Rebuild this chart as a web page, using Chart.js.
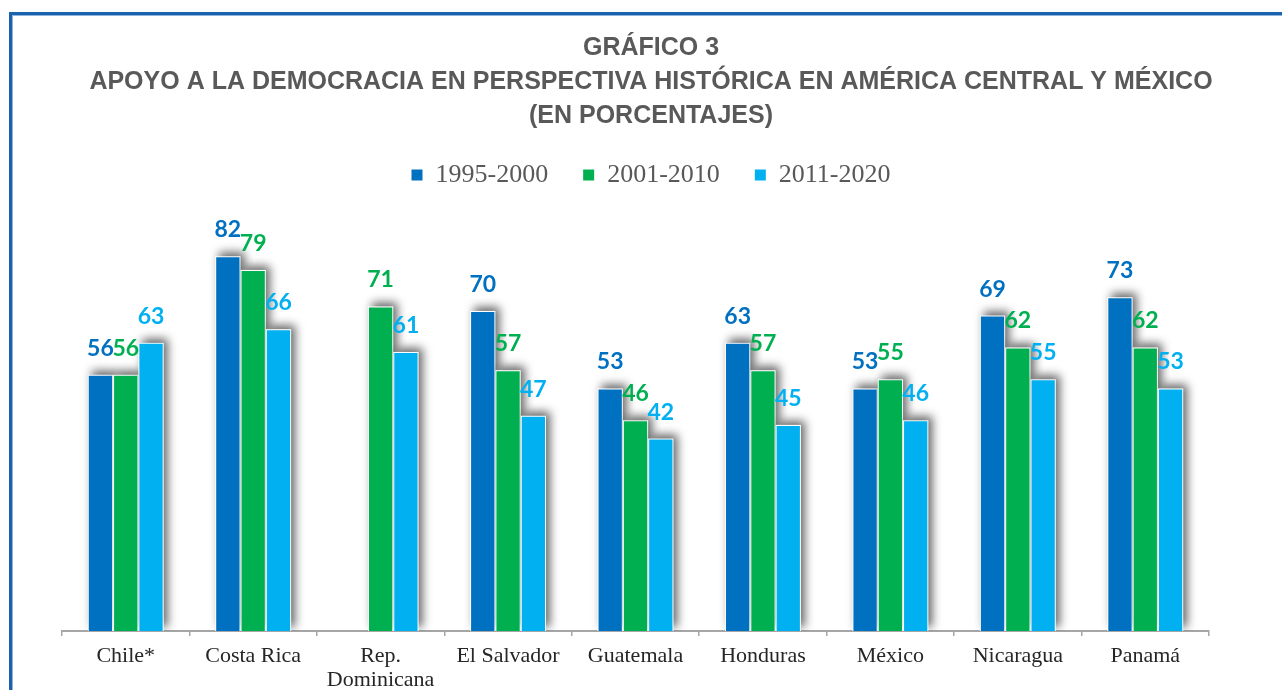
<!DOCTYPE html>
<html lang="es">
<head>
<meta charset="utf-8">
<script src="https://cdn.jsdelivr.net/npm/chart.js@4.4.1/dist/chart.umd.min.js"></script>
<style>
  html, body { margin: 0; padding: 0; background: #fff; overflow: hidden; }
  #wrap { position: relative; width: 1282px; height: 690px; }
  #frame {
    position: absolute; left: 9px; top: 12px; width: 1300px; height: 700px;
    border: 3px solid #1a62ad; box-shadow: inset 1px 1px 0 #8fb4dd; pointer-events: none;
  }
  canvas { position: absolute; left: 0; top: 0; }
</style>
</head>
<body>
<div id="wrap">
  <div id="frame"></div>
  <canvas id="chart" width="1282" height="690"></canvas>
</div>
<script>
// Data
const categories = ['Chile*', 'Costa Rica', ['Rep.', 'Dominicana'], 'El Salvador', 'Guatemala', 'Honduras', 'México', 'Nicaragua', 'Panamá'];
const periods = ['1995-2000', '2001-2010', '2011-2020'];
const values1995 = [56, 82, null, 70, 53, 63, 53, 69, 73];
const values2001 = [56, 79, 71, 57, 46, 57, 55, 62, 62];
const values2011 = [63, 66, 61, 47, 42, 45, 46, 55, 53];
const colors = ['#0070c0', '#00b050', '#00b0f0'];
const titleLines = [
  'GRÁFICO 3',
  'APOYO A LA DEMOCRACIA EN PERSPECTIVA HISTÓRICA EN AMÉRICA CENTRAL Y MÉXICO',
  '(EN PORCENTAJES)',
];

// White outline + soft drop shadow behind each bar
const barShadow = {
  id: 'barShadow',
  beforeDatasetsDraw(chart) {
    const { ctx, chartArea } = chart;
    ctx.save();
    ctx.beginPath();
    ctx.rect(chartArea.left, 0, chartArea.right - chartArea.left + 20, chartArea.bottom);
    ctx.clip();
    ctx.fillStyle = '#fff';
    ctx.shadowColor = 'rgba(0,0,0,0.6)';
    ctx.shadowBlur = 10;
    ctx.shadowOffsetX = 4;
    ctx.shadowOffsetY = -4;
    chart.data.datasets.forEach((ds, i) => {
      chart.getDatasetMeta(i).data.forEach((bar, j) => {
        if (ds.data[j] == null) return;
        const { x, y, base, width } = bar.getProps(['x', 'y', 'base', 'width'], true);
        ctx.fillRect(x - width / 2 - 1, y - 1, width + 2, base - y + 1);
      });
    });
    ctx.restore();
  },
};

// Value labels above the bars
const barLabels = {
  id: 'barLabels',
  afterDatasetsDraw(chart) {
    const { ctx } = chart;
    ctx.save();
    ctx.font = 'bold 23px Lato';
    ctx.textAlign = 'center';
    ctx.textBaseline = 'alphabetic';
    chart.data.datasets.forEach((ds, i) => {
      ctx.fillStyle = ds.backgroundColor;
      chart.getDatasetMeta(i).data.forEach((bar, j) => {
        if (ds.data[j] == null) return;
        ctx.fillText(ds.data[j], bar.x, bar.y - 20);
      });
    });
    ctx.restore();
  },
};

const ctx = document.getElementById('chart').getContext('2d');
const chart = new Chart(ctx, {
  type: 'bar',
  data: {
    labels: categories,
    datasets: [values1995, values2001, values2011].map((vals, i) => ({
      label: periods[i],
      data: vals,
      backgroundColor: colors[i],
      borderWidth: 0,
      categoryPercentage: 0.596,
      barPercentage: 0.92,
    })),
  },
  options: {
    responsive: false,
    animation: false,
    layout: { padding: { left: 62, right: 42, top: 0, bottom: 0 } },
    plugins: {
      title: {
        display: true,
        text: titleLines,
        color: '#595959',
        font: { family: 'Liberation Sans', size: 25, weight: 'bold', lineHeight: 34 / 25 },
        padding: { top: 31, bottom: -6 },
      },
      legend: {
        position: 'top',
        labels: {
          boxWidth: 11,
          boxHeight: 11,
          padding: 35,
          color: '#595959',
          font: { family: 'Liberation Serif', size: 26 },
        },
      },
      tooltip: { enabled: false },
    },
    scales: {
      x: {
        grid: { offset: true, drawOnChartArea: false, drawTicks: true, tickLength: 5, color: '#a6a6a6', lineWidth: 1.5 },
        border: { color: '#a6a6a6', width: 2 },
        ticks: {
          color: '#262626',
          padding: 8,
          maxRotation: 0,
          autoSkip: false,
          font: { family: 'Liberation Serif', size: 22, lineHeight: 1.1 },
        },
        afterFit(scale) { scale.height = 59; },
      },
      y: {
        position: 'right',
        min: 0,
        max: 95,
        ticks: { display: false },
        grid: { display: false },
        border: { display: false },
        afterFit(scale) { scale.width = 31; },
      },
    },
  },
  plugins: [barShadow, barLabels],
});
</script>
</body>
</html>
